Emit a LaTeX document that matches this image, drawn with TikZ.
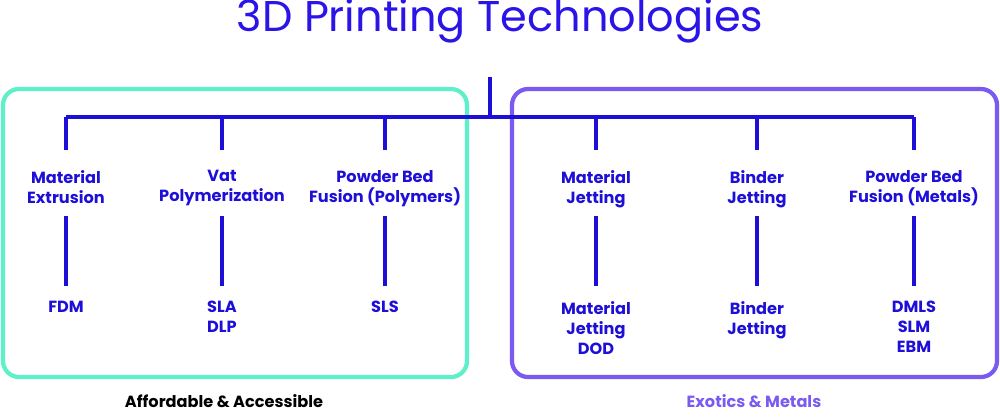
\documentclass[tikz,border=0pt]{standalone}
\usepackage{fontspec}
\setmainfont{Poppins}
\definecolor{tblue}{HTML}{2A14E8}
\definecolor{lblue}{HTML}{1E0FD8}
\definecolor{tgreen}{HTML}{5EF0C8}
\definecolor{tpurple}{HTML}{7A5AF0}
\begin{document}
\begin{tikzpicture}[x=0.02cm,y=-0.02cm,
  lab/.style={text=lblue,font=\fontsize{9.2}{11.4}\selectfont\bfseries,align=center,inner sep=0pt},
  conn/.style={draw=lblue,line width=2.4pt},
  grp/.style={line width=2.4pt,rounded corners=0.32cm}]
\useasboundingbox (0,0) rectangle (1000,416);
\node[text=tblue,font=\fontsize{24.5}{30}\selectfont] (title) at (500,21) {3D Printing Technologies};
\draw[grp,draw=tgreen] (3,89) rectangle (467,377);
\draw[grp,draw=tpurple] (512,89) rectangle (997,377);
\coordinate (top) at (490,77);
\coordinate (hub) at (490,117);
\coordinate (hl) at (66,117);
\coordinate (hr) at (914,117);
\draw[conn] (top) -- (hub);
\draw[conn] (hl) -- (hr);
\foreach \n/\x/\t/\b in {a/66/{Material\\Extrusion}/{FDM},
  b/222/{Vat\\Polymerization}/{SLA\\DLP},
  c/385/{Powder Bed\\Fusion (Polymers)}/{SLS},
  d/596/{Material\\Jetting}/{Material\\Jetting\\DOD},
  e/757/{Binder\\Jetting}/{Binder\\Jetting},
  f/914/{Powder Bed\\Fusion (Metals)}/{DMLS\\SLM\\EBM}}{
  \coordinate (\n j) at (\x,117);
  \coordinate (\n d) at (\x,150);
  \node[lab,anchor=north] (\n) at (\x,170) {\t};
  \coordinate (\n s) at (\x,216);
  \coordinate (\n e) at (\x,286);
  \node[lab,anchor=north] (\n l) at (\x,301) {\b};
  \draw[conn] (\n j) -- (\n d);
  \draw[conn] (\n s) -- (\n e);
}
\node[font=\fontsize{9.2}{11.4}\selectfont\bfseries] (cap1) at (224,401) {Affordable \& Accessible};
\node[font=\fontsize{9.2}{11.4}\selectfont\bfseries,text=tpurple] (cap2) at (754,401) {Exotics \& Metals};
\end{tikzpicture}
\end{document}
